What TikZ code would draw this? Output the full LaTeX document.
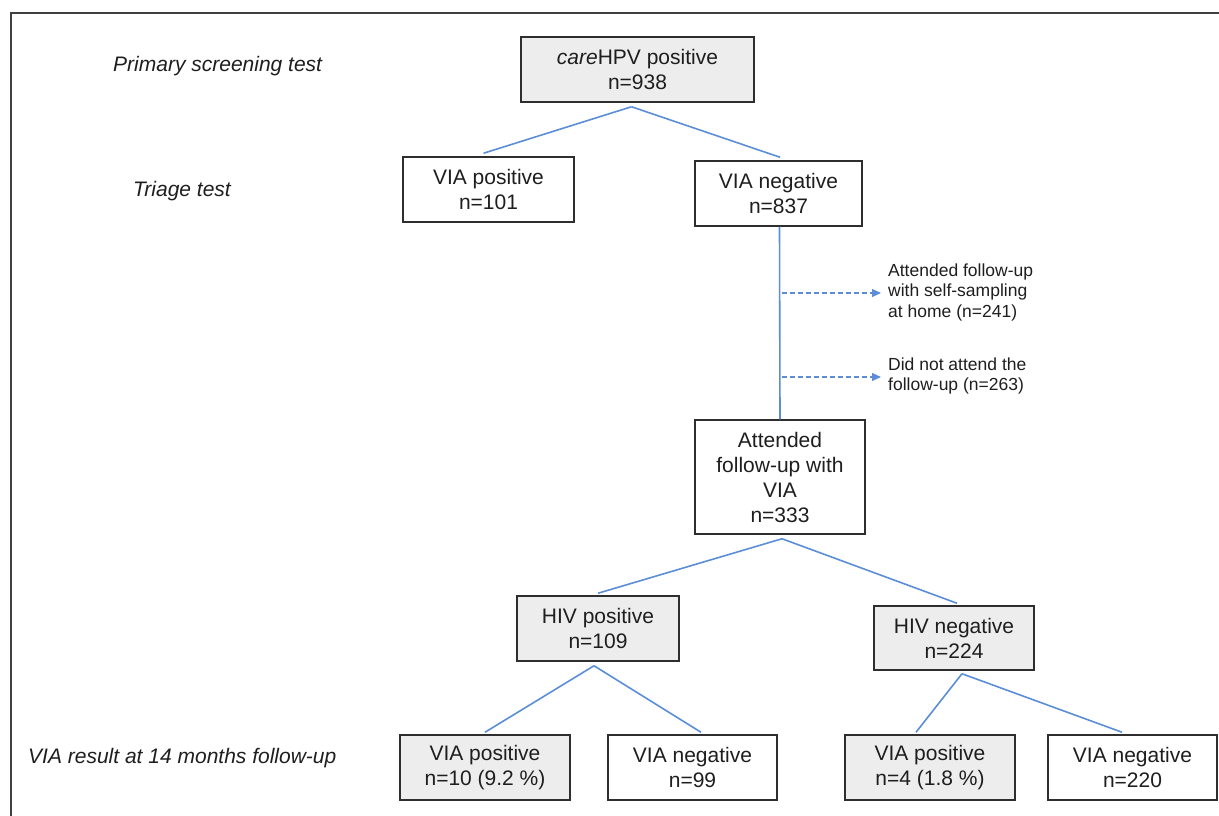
\documentclass[tikz,border=0pt]{standalone}
\usepackage{fontspec}
\setmainfont{Liberation Sans}
\usetikzlibrary{arrows.meta,calc}
\definecolor{conncol}{HTML}{5B8ED6}
\definecolor{boxfill}{HTML}{EDEDED}
\definecolor{boxline}{HTML}{2E2E2E}
\definecolor{framecol}{HTML}{404040}
\definecolor{txt}{HTML}{1E1E1E}
\tikzset{
  box/.style={draw=boxline, line width=1.5pt, align=center, inner sep=0pt, text=txt, font=\fontsize{21}{25}\selectfont},
  graybox/.style={box, fill=boxfill},
  conn/.style={draw=conncol, line width=1.6pt},
  dasharrow/.style={draw=conncol, line width=1.3pt, dash pattern=on 5pt off 3pt, -{Triangle[length=9pt,width=8pt]}},
  sidelabel/.style={font=\fontsize{21}{25}\selectfont\itshape, text=txt, inner sep=0pt, anchor=base west},
  note/.style={font=\fontsize{17.5}{20.5}\selectfont, text=txt, align=left, inner sep=0pt, anchor=west},
}
\begin{document}
\begin{tikzpicture}[x=1pt,y=-1pt]
\useasboundingbox (0,0) rectangle (1219,816);
% frame
\draw[framecol, line width=1.8pt] (11,816) -- (11,13) -- (1219,13);
% side labels
\node[sidelabel] (lprim) at (113,71) {Primary screening test};
\node[sidelabel] (ltri) at (133,196) {Triage test};
\node[sidelabel] (lvia) at (28,763) {VIA result at 14 months follow-up};
% boxes
\node[graybox, minimum width=233pt, minimum height=65pt] (top) at (637.5,69.5) {\textit{care}HPV positive\\n=938};
\node[box, minimum width=171pt, minimum height=65pt] (viapos) at (488.5,189.5) {VIA positive\\n=101};
\node[box, minimum width=167pt, minimum height=65pt] (vianeg) at (778.5,193.5) {VIA negative\\n=837};
\node[box, minimum width=170pt, minimum height=114pt] (att) at (780,477) {Attended\\follow-up with\\VIA\\n=333};
\node[graybox, minimum width=162pt, minimum height=65pt] (hivpos) at (598,628.5) {HIV positive\\n=109};
\node[graybox, minimum width=160pt, minimum height=64pt] (hivneg) at (954,638) {HIV negative\\n=224};
\node[graybox, minimum width=170pt, minimum height=65pt] (b1) at (485,767.5) {VIA positive\\n=10 (9.2 \%)};
\node[box, minimum width=169pt, minimum height=65pt] (b2) at (692.5,767.5) {VIA negative\\n=99};
\node[graybox, minimum width=170pt, minimum height=65pt] (b3) at (930,767.5) {VIA positive\\n=4 (1.8 \%)};
\node[box, minimum width=169pt, minimum height=65pt] (b4) at (1132.5,767.5) {VIA negative\\n=220};
% notes
\node[note] (n1) at (888,292) {Attended follow-up\\with self-sampling\\at home (n=241)};
\node[note] (n2) at (888,376) {Did not attend the\\follow-up (n=263)};
% connectors
\draw[conn] ([xshift=-6pt,yshift=-4pt]top.south) -- ([xshift=-5pt,yshift=3pt]viapos.north);
\draw[conn] ([xshift=-6pt,yshift=-4pt]top.south) -- ([xshift=1.5pt,yshift=3pt]vianeg.north);
\draw[conn] ([xshift=1pt]vianeg.south) -- (att.north);
\draw[conn] ([xshift=2pt,yshift=-4pt]att.south) -- ([yshift=2pt]hivpos.north);
\draw[conn] ([xshift=2pt,yshift=-4pt]att.south) -- ([xshift=3pt,yshift=2pt]hivneg.north);
\draw[conn] ([xshift=-4pt,yshift=-4pt]hivpos.south) -- ([xshift=0pt,yshift=2pt]b1.north);
\draw[conn] ([xshift=-4pt,yshift=-4pt]hivpos.south) -- ([xshift=8.5pt,yshift=2pt]b2.north);
\draw[conn] ([xshift=8pt,yshift=-3pt]hivneg.south) -- ([xshift=-14pt,yshift=2pt]b3.north);
\draw[conn] ([xshift=8pt,yshift=-3pt]hivneg.south) -- ([xshift=-10.5pt,yshift=2pt]b4.north);
% dashed arrows
\coordinate (d1) at (782,293);
\coordinate (d2) at (782,377);
\draw[dasharrow] (d1) -- ($(d1 -| n1.west)+(-7,0)$);
\draw[dasharrow] (d2) -- ($(d2 -| n2.west)+(-7,0)$);
\end{tikzpicture}
\end{document}
